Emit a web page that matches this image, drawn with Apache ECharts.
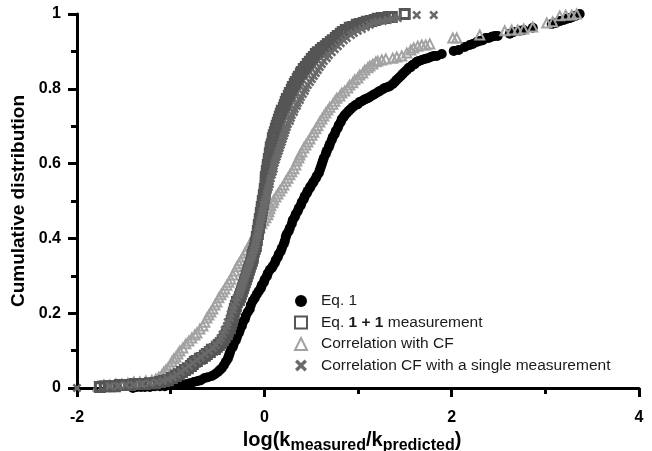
<!DOCTYPE html>
<html>
<head>
<meta charset="utf-8">
<script src="https://cdn.jsdelivr.net/npm/echarts@6/dist/echarts.min.js"></script>
<style>
  html, body { margin: 0; padding: 0; background: #fff; }
  #chart { width: 652px; height: 451px; }
</style>
</head>
<body>
<div id="chart"></div>
<script>
// Axis ticks
const xTicks = [-2, 0, 2, 4];
const yTicks = [0, 0.2, 0.4, 0.6, 0.8, 1];

// Series names
const seriesNames = [
  'Eq. 1',
  'Eq. 1 + 1 measurement',
  'Correlation with CF',
  'Correlation CF with a single measurement'
];

// Eq. 1 : [log(k_measured/k_predicted), cumulative fraction]
const eq1Points = [
  [-1.403,0.000],[-1.361,0.003],[-1.318,0.003],[-1.275,0.003],[-1.222,0.003],[-1.169,0.005],[-1.115,0.005],[-1.062,0.005],
  [-1.009,0.008],[-0.955,0.008],[-0.902,0.011],[-0.849,0.011],[-0.795,0.013],[-0.752,0.016],[-0.710,0.019],[-0.678,0.021],
  [-0.635,0.027],[-0.603,0.029],[-0.560,0.032],[-0.528,0.037],[-0.496,0.043],[-0.475,0.048],[-0.454,0.053],[-0.432,0.061],
  [-0.411,0.070],[-0.390,0.078],[-0.379,0.086],[-0.368,0.094],[-0.358,0.102],[-0.336,0.110],[-0.326,0.118],[-0.304,0.128],
  [-0.293,0.136],[-0.272,0.147],[-0.261,0.155],[-0.240,0.166],[-0.229,0.176],[-0.208,0.184],[-0.197,0.193],[-0.176,0.203],
  [-0.155,0.211],[-0.144,0.222],[-0.123,0.233],[-0.101,0.241],[-0.080,0.251],[-0.059,0.259],[-0.037,0.267],[-0.027,0.275],
  [-0.005,0.283],[0.005,0.291],[0.027,0.299],[0.037,0.307],[0.059,0.316],[0.080,0.321],[0.091,0.326],[0.112,0.334],
  [0.123,0.342],[0.144,0.350],[0.155,0.358],[0.176,0.366],[0.187,0.374],[0.208,0.385],[0.219,0.393],[0.229,0.404],
  [0.240,0.412],[0.261,0.420],[0.272,0.428],[0.293,0.439],[0.304,0.449],[0.325,0.457],[0.336,0.465],[0.357,0.473],
  [0.368,0.481],[0.390,0.489],[0.400,0.497],[0.421,0.505],[0.432,0.513],[0.454,0.521],[0.464,0.527],[0.486,0.535],
  [0.496,0.540],[0.518,0.548],[0.528,0.553],[0.550,0.561],[0.560,0.567],[0.582,0.575],[0.592,0.583],[0.603,0.591],
  [0.614,0.599],[0.624,0.607],[0.635,0.615],[0.656,0.626],[0.667,0.634],[0.688,0.644],[0.699,0.652],[0.720,0.663],
  [0.731,0.671],[0.752,0.679],[0.763,0.687],[0.784,0.695],[0.795,0.703],[0.816,0.711],[0.827,0.719],[0.848,0.725],
  [0.859,0.730],[0.880,0.735],[0.902,0.741],[0.923,0.746],[0.944,0.751],[0.976,0.757],[0.998,0.759],[1.019,0.765],
  [1.041,0.767],[1.062,0.770],[1.083,0.773],[1.105,0.775],[1.126,0.778],[1.158,0.783],[1.179,0.786],[1.211,0.791],
  [1.233,0.794],[1.265,0.799],[1.286,0.802],[1.318,0.805],[1.339,0.807],[1.371,0.813],[1.393,0.818],[1.414,0.824],
  [1.435,0.829],[1.457,0.834],[1.478,0.840],[1.499,0.845],[1.521,0.850],[1.542,0.856],[1.563,0.858],[1.585,0.864],
  [1.606,0.866],[1.627,0.872],[1.649,0.874],[1.681,0.877],[1.713,0.880],[1.745,0.882],[1.777,0.885],[1.809,0.888],
  [1.841,0.888],[1.894,0.893],[2.022,0.901],[2.076,0.904],[2.140,0.912],[2.193,0.917],[2.225,0.920],[2.268,0.925],
  [2.300,0.928],[2.332,0.930],[2.364,0.936],[2.396,0.936],[2.428,0.939],[2.460,0.941],[2.492,0.941],[2.620,0.947],
  [2.663,0.952],[2.727,0.955],[2.769,0.957],[2.866,0.963],[3.068,0.973],[3.111,0.976],[3.154,0.981],[3.196,0.984],
  [3.228,0.987],[3.260,0.989],[3.292,0.992],[3.324,0.995],[3.367,1.000]
];

// Eq. 1 + 1 measurement
const eq1MeasPoints = [
  [-1.756,0.003],[-1.702,0.005],[-1.649,0.005],[-1.595,0.005],[-1.542,0.008],[-1.489,0.008],[-1.435,0.008],[-1.382,0.011],
  [-1.329,0.011],[-1.275,0.011],[-1.222,0.013],[-1.169,0.013],[-1.115,0.016],[-1.073,0.019],[-1.030,0.021],[-0.987,0.027],
  [-0.944,0.032],[-0.912,0.037],[-0.880,0.043],[-0.848,0.048],[-0.816,0.053],[-0.784,0.059],[-0.763,0.064],[-0.742,0.070],
  [-0.720,0.072],[-0.688,0.078],[-0.667,0.080],[-0.635,0.086],[-0.614,0.091],[-0.582,0.096],[-0.560,0.102],[-0.528,0.104],
  [-0.507,0.110],[-0.486,0.115],[-0.464,0.120],[-0.443,0.128],[-0.422,0.136],[-0.400,0.144],[-0.390,0.152],[-0.368,0.160],
  [-0.358,0.171],[-0.347,0.179],[-0.336,0.190],[-0.326,0.201],[-0.315,0.211],[-0.304,0.219],[-0.293,0.230],[-0.272,0.235],
  [-0.261,0.243],[-0.251,0.251],[-0.240,0.259],[-0.229,0.267],[-0.219,0.275],[-0.208,0.283],[-0.197,0.291],[-0.187,0.299],
  [-0.176,0.307],[-0.165,0.316],[-0.155,0.324],[-0.144,0.332],[-0.133,0.340],[-0.123,0.348],[-0.123,0.356],[-0.112,0.364],
  [-0.101,0.372],[-0.091,0.380],[-0.091,0.388],[-0.080,0.396],[-0.080,0.404],[-0.069,0.412],[-0.069,0.420],[-0.059,0.428],
  [-0.059,0.436],[-0.048,0.444],[-0.048,0.452],[-0.037,0.460],[-0.037,0.468],[-0.027,0.476],[-0.027,0.484],[-0.016,0.492],
  [-0.016,0.500],[-0.005,0.508],[-0.005,0.516],[0.005,0.524],[0.005,0.532],[0.016,0.540],[0.016,0.548],[0.016,0.556],
  [0.016,0.564],[0.027,0.572],[0.027,0.580],[0.037,0.588],[0.037,0.596],[0.048,0.604],[0.048,0.612],[0.059,0.620],
  [0.059,0.628],[0.069,0.636],[0.069,0.644],[0.080,0.652],[0.091,0.660],[0.091,0.668],[0.101,0.676],[0.112,0.684],
  [0.123,0.693],[0.133,0.701],[0.144,0.709],[0.155,0.717],[0.165,0.725],[0.176,0.733],[0.187,0.741],[0.208,0.749],
  [0.219,0.757],[0.229,0.765],[0.240,0.773],[0.261,0.781],[0.272,0.789],[0.293,0.797],[0.304,0.805],[0.325,0.813],
  [0.336,0.818],[0.357,0.826],[0.368,0.832],[0.390,0.840],[0.400,0.845],[0.421,0.853],[0.443,0.858],[0.464,0.866],
  [0.486,0.872],[0.507,0.880],[0.528,0.885],[0.550,0.893],[0.571,0.898],[0.603,0.904],[0.624,0.909],[0.656,0.914],
  [0.678,0.920],[0.710,0.925],[0.731,0.930],[0.763,0.936],[0.784,0.941],[0.816,0.947],[0.838,0.952],[0.870,0.957],
  [0.912,0.963],[0.944,0.965],[0.987,0.971],[1.019,0.973],[1.062,0.976],[1.094,0.979],[1.137,0.981],[1.179,0.984],
  [1.211,0.987],[1.254,0.989],[1.286,0.989],[1.329,0.992],[1.361,0.992],[1.499,1.000]
];

// Correlation with CF
const corrPoints = [
  [-1.777,0.005],[-1.713,0.008],[-1.649,0.008],[-1.585,0.011],[-1.521,0.011],[-1.457,0.013],[-1.393,0.016],[-1.329,0.016],
  [-1.265,0.019],[-1.201,0.021],[-1.158,0.024],[-1.126,0.029],[-1.094,0.035],[-1.073,0.043],[-1.051,0.048],[-1.030,0.053],
  [-1.009,0.061],[-0.987,0.070],[-0.966,0.078],[-0.944,0.083],[-0.923,0.091],[-0.902,0.099],[-0.870,0.107],[-0.838,0.118],
  [-0.806,0.126],[-0.774,0.134],[-0.742,0.142],[-0.720,0.147],[-0.688,0.158],[-0.656,0.166],[-0.635,0.176],[-0.614,0.187],
  [-0.592,0.195],[-0.571,0.203],[-0.550,0.211],[-0.528,0.222],[-0.507,0.230],[-0.486,0.241],[-0.464,0.249],[-0.443,0.257],
  [-0.422,0.265],[-0.400,0.275],[-0.379,0.283],[-0.358,0.291],[-0.336,0.302],[-0.315,0.313],[-0.293,0.324],[-0.272,0.332],
  [-0.251,0.340],[-0.229,0.350],[-0.208,0.361],[-0.187,0.369],[-0.165,0.380],[-0.144,0.388],[-0.133,0.396],[-0.112,0.404],
  [-0.091,0.412],[-0.069,0.422],[-0.048,0.430],[-0.027,0.439],[-0.005,0.447],[0.016,0.455],[0.037,0.463],[0.048,0.471],
  [0.059,0.479],[0.069,0.487],[0.091,0.495],[0.101,0.503],[0.123,0.511],[0.144,0.519],[0.165,0.527],[0.187,0.535],
  [0.208,0.543],[0.229,0.553],[0.251,0.561],[0.272,0.570],[0.293,0.578],[0.315,0.586],[0.336,0.596],[0.347,0.607],
  [0.368,0.615],[0.379,0.623],[0.400,0.631],[0.421,0.642],[0.443,0.650],[0.464,0.658],[0.486,0.666],[0.507,0.676],
  [0.528,0.684],[0.550,0.693],[0.571,0.701],[0.592,0.711],[0.614,0.719],[0.635,0.727],[0.656,0.735],[0.678,0.743],
  [0.699,0.751],[0.731,0.759],[0.752,0.767],[0.774,0.775],[0.806,0.781],[0.827,0.789],[0.859,0.794],[0.891,0.802],
  [0.912,0.810],[0.944,0.816],[0.966,0.824],[0.998,0.829],[1.019,0.837],[1.051,0.842],[1.073,0.850],[1.105,0.856],
  [1.126,0.861],[1.158,0.866],[1.190,0.872],[1.211,0.874],[1.254,0.877],[1.297,0.880],[1.371,0.882],[1.414,0.885],
  [1.467,0.888],[1.521,0.896],[1.563,0.904],[1.595,0.909],[1.638,0.914],[1.681,0.917],[1.723,0.917],[1.766,0.920],
  [2.012,0.936],[2.054,0.936],[2.300,0.944],[2.567,0.955],[2.641,0.957],[2.705,0.957],[2.769,0.960],[2.866,0.965],
  [3.015,0.976],[3.079,0.979],[3.154,0.995],[3.218,0.997],[3.282,0.997],[3.335,1.000]
];

// Correlation CF with a single measurement
const corrSinglePoints = [
  [-2.000,0.000],[-1.649,0.005],[-1.563,0.005],[-1.478,0.008],[-1.393,0.008],[-1.307,0.011],[-1.222,0.013],[-1.147,0.016],
  [-1.083,0.019],[-1.030,0.024],[-0.976,0.029],[-0.934,0.035],[-0.891,0.043],[-0.848,0.051],[-0.806,0.059],[-0.763,0.067],
  [-0.720,0.075],[-0.678,0.083],[-0.635,0.091],[-0.592,0.099],[-0.550,0.107],[-0.518,0.115],[-0.486,0.126],[-0.464,0.134],
  [-0.443,0.144],[-0.422,0.155],[-0.400,0.166],[-0.390,0.176],[-0.368,0.187],[-0.358,0.198],[-0.336,0.209],[-0.326,0.219],
  [-0.304,0.230],[-0.293,0.241],[-0.272,0.249],[-0.261,0.257],[-0.251,0.265],[-0.240,0.273],[-0.229,0.281],[-0.219,0.289],
  [-0.208,0.297],[-0.197,0.305],[-0.187,0.313],[-0.176,0.321],[-0.165,0.329],[-0.155,0.337],[-0.144,0.345],[-0.133,0.353],
  [-0.123,0.361],[-0.112,0.369],[-0.101,0.377],[-0.091,0.385],[-0.091,0.393],[-0.080,0.401],[-0.069,0.409],[-0.069,0.417],
  [-0.059,0.425],[-0.048,0.433],[-0.048,0.441],[-0.037,0.449],[-0.027,0.457],[-0.027,0.465],[-0.016,0.473],[-0.005,0.481],
  [-0.005,0.489],[0.005,0.497],[0.016,0.505],[0.027,0.513],[0.027,0.521],[0.037,0.529],[0.048,0.537],[0.059,0.545],
  [0.059,0.553],[0.069,0.561],[0.080,0.570],[0.091,0.578],[0.101,0.586],[0.101,0.594],[0.112,0.602],[0.123,0.610],
  [0.133,0.618],[0.144,0.626],[0.155,0.634],[0.165,0.642],[0.176,0.650],[0.187,0.658],[0.197,0.666],[0.208,0.674],
  [0.219,0.682],[0.229,0.690],[0.240,0.698],[0.251,0.706],[0.272,0.714],[0.283,0.722],[0.293,0.730],[0.315,0.738],
  [0.325,0.746],[0.347,0.754],[0.357,0.762],[0.379,0.770],[0.390,0.778],[0.411,0.786],[0.432,0.794],[0.443,0.802],
  [0.464,0.810],[0.486,0.818],[0.507,0.826],[0.528,0.834],[0.550,0.842],[0.571,0.850],[0.592,0.858],[0.614,0.866],
  [0.635,0.874],[0.667,0.882],[0.688,0.890],[0.720,0.898],[0.752,0.906],[0.784,0.914],[0.816,0.922],[0.848,0.930],
  [0.880,0.936],[0.923,0.944],[0.955,0.949],[0.998,0.955],[1.041,0.960],[1.083,0.965],[1.126,0.971],[1.169,0.976],
  [1.211,0.979],[1.265,0.981],[1.318,0.984],[1.371,0.987],[1.425,0.989],[1.627,0.997],[1.809,0.997]
];

const FONT = '"Liberation Sans", Arial, Helvetica, sans-serif';
const CROSS = 'path://M0,2L2,0L5,3L8,0L10,2L7,5L10,8L8,10L5,7L2,10L0,8L3,5Z';

const chart = echarts.init(document.getElementById('chart'), null, { renderer: 'canvas' });

chart.setOption({
  animation: false,
  backgroundColor: '#ffffff',
  textStyle: { fontFamily: FONT },
  grid: { left: 77, right: 13, top: 14, bottom: 63, containLabel: false, outerBoundsMode: 'none' },
  legend: {
    orient: 'vertical',
    left: 289,
    top: 288,
    itemWidth: 12,
    itemHeight: 12,
    itemGap: 5.5,
    selectedMode: false,
    textStyle: {
      fontFamily: FONT, fontSize: 15.5, color: '#1a1a1a', padding: [0, 0, 0, 9],
      rich: { b: { fontFamily: FONT, fontSize: 15.5, fontWeight: 'bold', color: '#1a1a1a' } }
    },
    formatter: name => name === seriesNames[1] ? 'Eq. {b|1 + 1} measurement' : name,
    data: seriesNames
  },
  xAxis: {
    type: 'value',
    min: xTicks[0],
    max: xTicks[xTicks.length - 1],
    interval: xTicks[1] - xTicks[0],
    splitLine: { show: false },
    axisLine: { onZero: false, lineStyle: { color: '#000', width: 3 } },
    axisTick: { length: 9, lineStyle: { color: '#000', width: 3 } },
    minorTick: { show: true, splitNumber: 2, length: 6, lineStyle: { color: '#000', width: 3 } },
    axisLabel: { margin: 22, fontFamily: FONT, fontSize: 16, fontWeight: 'bold', color: '#000' },
    name: '{a|log(k}{s|measured}{a|/k}{s|predicted}{a|)}',
    nameLocation: 'middle',
    nameGap: 27,
    nameTextStyle: {
      padding: [0, 12, 0, 0],
      rich: {
        a: { fontFamily: FONT, fontSize: 20, fontWeight: 'bold', color: '#000', lineHeight: 24, verticalAlign: 'bottom' },
        s: { fontFamily: FONT, fontSize: 16, fontWeight: 'bold', color: '#000', lineHeight: 24, verticalAlign: 'bottom', padding: [0, 0, -3, 0] }
      }
    }
  },
  yAxis: {
    type: 'value',
    min: yTicks[0],
    max: yTicks[yTicks.length - 1],
    interval: yTicks[1] - yTicks[0],
    splitLine: { show: false },
    axisLine: { onZero: false, lineStyle: { color: '#000', width: 3 } },
    axisTick: { length: 9, lineStyle: { color: '#000', width: 3 } },
    minorTick: { show: true, splitNumber: 2, length: 6, lineStyle: { color: '#000', width: 3 } },
    axisLabel: { margin: 16, fontFamily: FONT, fontSize: 16, fontWeight: 'bold', color: '#000' },
    name: 'Cumulative distribution',
    nameLocation: 'middle',
    nameGap: 40,
    nameTextStyle: { fontFamily: FONT, fontSize: 19, fontWeight: 'bold', color: '#000' }
  },
  series: [
    {
      name: seriesNames[0],
      type: 'scatter',
      z: 2,
      clip: false,
      symbol: 'circle',
      symbolSize: 10,
      itemStyle: { color: '#000000', opacity: 1 },
      data: eq1Points
    },
    {
      name: seriesNames[1],
      type: 'scatter',
      z: 4,
      clip: false,
      symbol: 'rect',
      symbolSize: 9,
      itemStyle: { color: 'rgba(0,0,0,0)', borderColor: '#555555', borderWidth: 3, opacity: 1 },
      data: eq1MeasPoints
    },
    {
      name: seriesNames[2],
      type: 'scatter',
      z: 3,
      clip: false,
      symbol: 'triangle',
      symbolSize: 9,
      itemStyle: { color: 'rgba(0,0,0,0)', borderColor: '#a2a2a2', borderWidth: 2, opacity: 1 },
      data: corrPoints
    },
    {
      name: seriesNames[3],
      type: 'scatter',
      z: 5,
      clip: false,
      symbol: CROSS,
      symbolSize: 9,
      itemStyle: { color: '#6a6a6a', opacity: 1 },
      data: corrSinglePoints
    }
  ]
});
</script>
</body>
</html>
